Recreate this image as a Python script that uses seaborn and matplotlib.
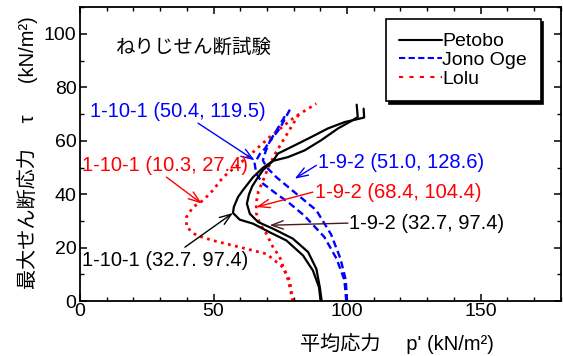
import matplotlib
matplotlib.use("Agg")
import matplotlib.pyplot as plt
import seaborn as sns
from matplotlib.ticker import MultipleLocator

# Stress paths from the torsional shear tests: mean stress p' vs max shear stress tau (kN/m2)
petobo_a_p = [90.1, 89.5, 87.2, 83.5, 77.3, 71.0, 64.8, 59.8, 57.3, 57.6, 59.2, 61.0, 64.8,
              68.5, 72.3, 77.9, 84.1, 90.3, 96.6, 101.6, 104.0, 103.6]
petobo_a_q = [0.0, 5.2, 11.5, 17.1, 22.7, 25.8, 29.0, 30.5, 33.0, 35.2, 39.0, 41.5, 46.4,
              49.9, 52.5, 53.9, 56.4, 60.2, 64.6, 67.4, 68.9, 73.5]
petobo_b_p = [90.5, 89.8, 88.5, 85.4, 79.7, 72.3, 66.7, 63.6, 62.5, 63.3, 64.5, 66.1, 68.5,
              72.3, 74.1, 80.4, 86.6, 92.8, 99.1, 102.2, 106.4, 106.2]
petobo_b_q = [0.0, 5.2, 12.1, 18.4, 23.4, 27.1, 29.6, 32.7, 36.5, 40.0, 43.0, 45.5, 49.0,
              52.5, 55.2, 58.3, 61.4, 64.6, 67.0, 67.7, 68.7, 72.0]

jono_a_p = [100.0, 99.5, 97.5, 94.0, 88.5, 81.0, 73.5, 69.8, 68.5, 69.5, 71.0, 74.8, 79.1]
jono_a_q = [0.0, 8.0, 16.0, 25.0, 34.0, 40.2, 46.4, 50.2, 52.7, 56.0, 59.6, 64.6, 72.6]
jono_b_p = [99.7, 99.0, 96.0, 91.5, 84.0, 78.0, 73.5, 68.5, 66.0, 65.4, 67.3, 69.2, 72.9, 77.3]
jono_b_q = [0.0, 8.0, 16.0, 24.0, 32.0, 37.0, 40.2, 44.0, 47.7, 51.5, 55.0, 57.0, 62.7, 70.2]

lolu_a_p = [79.7, 78.5, 76.0, 69.8, 59.8, 49.8, 43.6, 39.9, 39.9, 42.3, 46.1, 49.8, 53.6,
            59.8, 64.2, 71.0, 80.4, 88.5]
lolu_a_q = [0.0, 7.8, 12.7, 17.7, 20.2, 22.7, 24.6, 27.7, 31.5, 35.2, 37.7, 41.5, 46.4,
            51.5, 55.2, 61.4, 68.9, 73.9]
lolu_b_p = [79.7, 78.0, 76.6, 74.8, 72.3, 69.8, 67.3, 66.0, 66.0, 66.8, 68.5, 70.5, 73.0,
            76.0, 79.0, 82.0]
lolu_b_q = [0.0, 7.8, 11.5, 16.5, 20.2, 25.2, 29.0, 33.0, 37.0, 41.0, 45.0, 50.0, 55.0,
            60.0, 65.0, 70.0]

BLUE = "#0000ff"
RED = "#ff0000"

sns.set_theme(style="ticks")
plt.rcParams.update(
    {
        "font.family": ["Liberation Sans", "Noto Sans CJK JP"],
        "font.size": 14,
        "text.color": "black",
        "axes.edgecolor": "black",
        "axes.labelcolor": "black",
        "axes.linewidth": 1.3,
        "xtick.color": "black",
        "ytick.color": "black",
        "xtick.direction": "in",
        "ytick.direction": "in",
        "xtick.top": True,
        "ytick.right": True,
        "xtick.major.size": 5,
        "ytick.major.size": 5,
        "xtick.minor.size": 3.2,
        "ytick.minor.size": 3.2,
        "xtick.major.width": 1.1,
        "ytick.major.width": 1.1,
        "xtick.minor.width": 1.0,
        "ytick.minor.width": 1.0,
        "xtick.major.pad": 1.5,
        "ytick.major.pad": 2.5,
        "xtick.labelsize": 14,
        "ytick.labelsize": 14,
    }
)

fig = plt.figure(figsize=(5.63, 3.56), dpi=100)
ax = fig.add_axes([0.142, 0.154, 0.854, 0.826])

black_kw = dict(color="black", lw=1.6, linestyle="-")
blue_kw = dict(color=BLUE, lw=1.7, linestyle=(0, (3, 1.7)))
red_kw = dict(color=RED, lw=2.0, linestyle=(0, (1, 1.6)))

sns.lineplot(x=lolu_a_p, y=lolu_a_q, sort=False, estimator=None, ax=ax, **red_kw)
sns.lineplot(x=lolu_b_p, y=lolu_b_q, sort=False, estimator=None, ax=ax, **red_kw)
sns.lineplot(x=jono_a_p, y=jono_a_q, sort=False, estimator=None, ax=ax, **blue_kw)
sns.lineplot(x=jono_b_p, y=jono_b_q, sort=False, estimator=None, ax=ax, **blue_kw)
sns.lineplot(x=petobo_a_p, y=petobo_a_q, sort=False, estimator=None, ax=ax, **black_kw)
sns.lineplot(x=petobo_b_p, y=petobo_b_q, sort=False, estimator=None, ax=ax, **black_kw)

ax.set_xlim(0, 180)
ax.set_ylim(0, 110)
ax.xaxis.set_major_locator(MultipleLocator(50))
ax.xaxis.set_minor_locator(MultipleLocator(10))
ax.yaxis.set_major_locator(MultipleLocator(20))
ax.yaxis.set_minor_locator(MultipleLocator(10))
ax.tick_params(which="both", top=True, right=True, labeltop=False, labelright=False)

ax.set_xlabel("平均応力　 p' (kN/m²)", fontsize=14.5)
ax.xaxis.label.set_va("center")
ax.xaxis.set_label_coords(0.66, -0.143)
ax.set_ylabel("最大せん断応力　 τ　  (kN/m²)", fontsize=14.5)
ax.yaxis.label.set_va("center")
ax.yaxis.set_label_coords(-0.108, 0.505)

ax.text(13.5, 95, "ねりじせん断試験", fontsize=14, ha="left", va="center")

# legend built from proxy lines so the handles match the series styles
handles = [
    plt.Line2D([], [], color="black", lw=1.5),
    plt.Line2D([], [], color=BLUE, lw=1.5, linestyle=(0, (3, 1.6))),
    plt.Line2D([], [], color=RED, lw=1.5, linestyle=(0, (2, 3))),
]
leg = ax.legend(
    handles, ["Petobo", "Jono Oge", "Lolu"],
    loc="upper right", bbox_to_anchor=(0.958, 0.959), borderaxespad=0.0, fontsize=14,
    handlelength=2.2, handletextpad=0.0, labelspacing=0.05, borderpad=0.7,
    fancybox=False, edgecolor="black", framealpha=1,
    shadow={"color": "black", "alpha": 1},
)
leg.get_frame().set_linewidth(1.2)


def note(text, color, text_xy, tail, tip, arrow_color=None):
    ax.text(*text_xy, text, color=color, fontsize=14.5, ha="left", va="center")
    ax.annotate(
        "", xy=tip, xytext=tail,
        arrowprops=dict(arrowstyle="->,head_length=0.7,head_width=0.25",
                        color=arrow_color or color, lw=1.0,
                        shrinkA=0, shrinkB=0, mutation_scale=12),
    )


note("1-10-1 (50.4, 119.5)", BLUE, (3.7, 71.0), (44.2, 66.6), (65.4, 52.7))
note("1-10-1 (10.3, 27.4)", RED, (0.6, 50.8), (32.4, 46.4), (45.6, 36.5))
note("1-10-1 (32.7. 97.4)", "black", (0.6, 15.2), (39.3, 20.2), (57.3, 33.0))
note("1-9-2 (51.0, 128.6)", BLUE, (89.1, 52.0), (88.5, 50.8), (80.4, 45.8))
note("1-9-2 (68.4, 104.4)", RED, (87.9, 40.8), (87.2, 40.8), (66.0, 35.2))
note("1-9-2 (32.7, 97.4)", "black", (100.9, 29.0), (100.3, 29.2), (71.0, 28.4),
     arrow_color="#4b1c1c")

fig.savefig("out.png", dpi=100)
